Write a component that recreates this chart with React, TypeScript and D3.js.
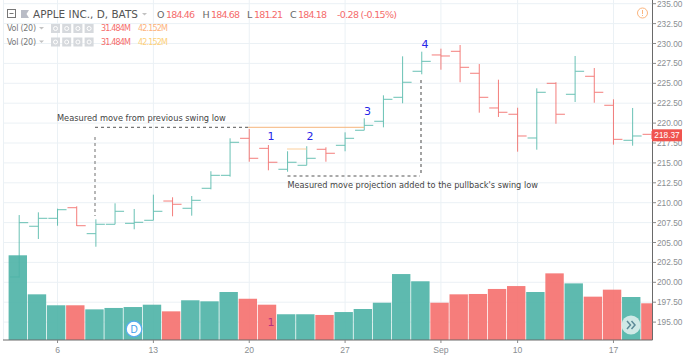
import React from "react";
import * as d3 from "d3";

const opens = [200.67,207.04,208.04,209.37,206.11,207.29,207.41,207.79,210.21,209.3,211.81,213.44,218.09,216.83,214.2,214.7,216.71,217.21,219.1,220.23,223.24,226.51,228.56,229.02,226.26,221.9,221.11,218.13,225,223.62,225.88,222.24,217.84,218.59];
const highs = [208.45,208.79,209.25,209.55,207.91,209.92,209.21,211.01,210.68,210.84,213.95,218.09,219.26,217.25,216.46,217.09,216.96,218.84,220.6,223.49,228.39,228.97,229.35,229.81,227.42,225.45,221.93,224.37,225.13,228.43,226.92,222.99,221.9,219];
const lows = [200.58,205.44,207.11,207.07,204.47,207.29,206.66,207.79,208.29,208.37,211.68,213.27,215.15,214.07,213.89,214.7,215.15,216.46,219.1,219.47,222.49,226.13,226.71,225.13,221.31,220.77,216.41,216.66,219.92,222.65,222.56,217.29,217.16,218];
const closes = [207.49,208.04,209.12,207.11,207.29,208.92,207.54,208.92,209.8,210.3,213.44,217.59,215.58,215.08,215.08,215.58,216.21,218.09,219.72,222.99,225.13,227.76,228.43,227.01,223.24,221.36,218.38,223.87,221.11,226.51,223.87,217.96,218.38,218.37];
const volumes = [72.7,39.2,29.8,29.8,26.3,27.5,28.3,30.3,24.6,34.1,33.2,41.2,35.4,30.3,22.1,22.1,21.5,24,26.6,32,56.6,50.4,32,39.2,39.5,43.8,46.3,41.2,57.2,48.6,37.2,43.2,36.9,31.5];
const priceTicks = d3.range(195, 235.01, 2.5);
const timeTicks: [number, string][] = [[2,"6"],[7,"13"],[12,"20"],[17,"27"],[22,"Sep"],[26,"10"],[31,"17"]];
const headerValues: [string, number, string, number][] = [["O",157,"184.46",166],["H",202.5,"184.68",211],["L",247,"181.21",254],["C",290,"184.18",298]];
const legendRows: [number, string][] = [[28,"#fdb37c"],[41.5,"#fdd07a"]];

const GREEN = "#45b3a3";
const RED = "#f25f5c";
const SANS = "'Liberation Sans', Arial, sans-serif";
const LABEL = "'DejaVu Sans', sans-serif";

const x = d3.scaleLinear().domain([0, 33]).range([19.2, 651.8]);
const y = d3.scaleLinear().domain([235, 195]).range([3.7, 322.1]);
const v = d3.scaleLinear().domain([0, 31.5]).range([340, 303.3]);
const colorOf = (i: number) => (closes[i] < opens[i] ? RED : GREEN);

export default function App() {
  return (
    <svg width={684} height={355} style={{ position: "absolute", left: 0, top: 0, background: "#fff" }} fontFamily={SANS}>
      <defs>
        <clipPath id="plot"><rect x={3} y={0} width={649.5} height={340} /></clipPath>
      </defs>
      <g stroke="#ebf1f5" strokeWidth={1}>
        {priceTicks.map((t) => <line key={t} x1={3.5} x2={652} y1={y(t)} y2={y(t)} />)}
        {timeTicks.map(([i]) => <line key={i} x1={x(i)} x2={x(i)} y1={0} y2={340} />)}
        <line x1={3.5} x2={3.5} y1={0} y2={340} />
      </g>
      <g clipPath="url(#plot)">
        {opens.map((o, i) => (
          <g key={i} stroke={colorOf(i)} strokeWidth={1} opacity={0.8}>
            <line x1={x(i)} x2={x(i)} y1={y(highs[i])} y2={y(lows[i])} />
            <line x1={x(i) - 9.2} x2={x(i)} y1={y(o)} y2={y(o)} />
            <line x1={x(i)} x2={x(i) + 9} y1={y(closes[i])} y2={y(closes[i])} />
          </g>
        ))}
        {volumes.map((d, i) => (
          <rect key={i} x={x(i) - 10.6} width={18.4} y={v(d)} height={340 - v(d)} fill={colorOf(i) === RED ? "#f56f6d" : "#4cb3a6"} opacity={0.9} />
        ))}
      </g>
      <line x1={3} x2={652.5} y1={340} y2={340} stroke="#6a6a6a" />
      <line x1={652.5} x2={652.5} y1={0} y2={340} stroke="#6a6a6a" />
      {priceTicks.map((t) => (
        <g key={t}>
          <line x1={652.5} x2={656} y1={y(t)} y2={y(t)} stroke="#8a8a8a" />
          <text x={657} y={y(t) + 3} fontSize={8.3} fill="#8a8e92">{t.toFixed(2)}</text>
        </g>
      ))}
      {timeTicks.map(([i, s]) => (
        <g key={i}>
          <line x1={x(i)} x2={x(i)} y1={340} y2={343} stroke="#8a8a8a" />
          <text x={x(i)} y={353} fontSize={8.6} textAnchor="middle" fill="#8a8e92">{s}</text>
        </g>
      ))}
      <rect x={652} y={129.3} width={30} height={12} fill="#f0544f" />
      <text x={667} y={138.3} fontSize={8.3} textAnchor="middle" fill="#fff">218.37</text>

      <text x={57} y={120.5} fontSize={8.26} fill="#444" fontFamily={LABEL}>Measured move from previous swing low</text>
      <text x={287.5} y={188} fontSize={8.2} fill="#444" fontFamily={LABEL}>Measured move projection added to the pullback's swing low</text>
      <g fill="none">
        <line x1={95} x2={248} y1={127.3} y2={127.3} stroke="#555" strokeDasharray="3 3" />
        <line x1={95} x2={95} y1={137} y2={216} stroke="#888" strokeWidth={1.2} strokeDasharray="3 3" />
        <line x1={248} x2={364} y1={127.3} y2={127.3} stroke="#f5b67c" />
        <line x1={287} x2={306.5} y1={149} y2={149} stroke="#fbcf9c" />
        <line x1={287.5} x2={420} y1={176} y2={176} stroke="#555" strokeDasharray="3 3" />
        <line x1={421} x2={421} y1={80} y2={176} stroke="#666" strokeWidth={1.2} strokeDasharray="3 3" />
      </g>
      <g fontSize={11} fill="#2626e8" textAnchor="middle" fontFamily={LABEL}>
        <text x={271} y={140}>1</text>
        <text x={310} y={140}>2</text>
        <text x={367.5} y={114.5}>3</text>
        <text x={425} y={48}>4</text>
      </g>
      <text x={271} y={326} fontSize={11} fill="#b83280" textAnchor="middle" fontFamily={LABEL}>1</text>

      <rect x={7.5} y={9.5} width={8} height={8} fill="none" stroke="#777" />
      <line x1={9.5} x2={13.5} y1={13.5} y2={13.5} stroke="#777" />
      <path d="M21 10h8l-2.5 4 2.5 4h-8z" fill="#b9bcc6" />
      <text x={33} y={18} fontSize={11.3} fill="#555" fontFamily={LABEL} textLength={105} lengthAdjust="spacingAndGlyphs">APPLE INC., D, BATS</text>
      <path d="M142 13h5l-2.5 2.5z" fill="#c2c2c2" />
      {headerValues.map(([k, kx, val, vx]) => (
        <g key={k} fontSize={9.5} fontFamily={LABEL}>
          <text x={kx} y={18} fill="#666">{k}</text>
          <text x={vx} y={18} fill="#f56c6c" textLength={29}>{val}</text>
        </g>
      ))}
      <text x={337} y={18} fontSize={9.5} fill="#f56c6c" fontFamily={LABEL} textLength={60}>-0.28 (-0.15%)</text>
      {legendRows.map(([ry, c]) => (
        <g key={ry} fontFamily={LABEL} fontSize={8}>
          <text x={7} y={ry + 3} fill="#777" textLength={29}>Vol (20)</text>
          <path d={`M39 ${ry - 1}h5l-2.5 2.5z`} fill="#c2c2c2" />
          {[0, 1, 2, 3].map((k) => (
            <g key={k}>
              <rect x={51 + k * 11.2} y={ry - 4} width={9} height={9} fill="#d6d9dd" />
              <circle cx={55.5 + k * 11.2} cy={ry + 0.5} r={2} fill="none" stroke="#fff" />
            </g>
          ))}
          <text x={101} y={ry + 3} fill="#f56c6c" textLength={30}>31.484M</text>
          <text x={138} y={ry + 3} fill={c} textLength={30}>42.152M</text>
        </g>
      ))}
      <circle cx={134} cy={329} r={7.8} fill="#fff" stroke="#55acee" strokeWidth={1.2} />
      <text x={134} y={332.5} fontSize={10} textAnchor="middle" fill="#3f9eea">D</text>
      <circle cx={631} cy={325} r={9.5} fill="#cfe9e6" />
      <path d="M627 321l3.5 4-3.5 4M631.5 321l3.5 4-3.5 4" fill="none" stroke="#5d8a98" strokeWidth={1.5} />
      <circle cx={642.5} cy={13} r={5} fill="none" stroke="#fbb57e" strokeWidth={1} />
      <line x1={642.5} x2={642.5} y1={10} y2={14} stroke="#fbb57e" />
      <line x1={642.5} x2={642.5} y1={15} y2={16} stroke="#fbb57e" />
    </svg>
  );
}
